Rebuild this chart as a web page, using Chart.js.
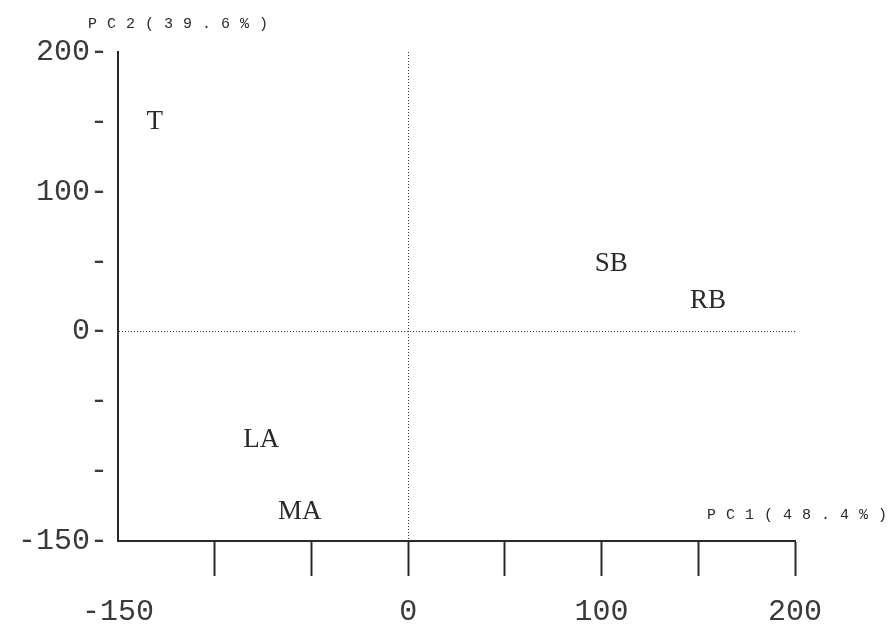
<!DOCTYPE html>
<html>
<head>
<meta charset="utf-8">
<script src="https://cdn.jsdelivr.net/npm/chart.js@4"></script>
<style>
  body { margin: 0; background: #fff; }
  canvas { display: block; }
</style>
</head>
<body>
<canvas id="myChart" width="893" height="632"></canvas>
<script>
const groups = ["T", "SB", "RB", "LA", "MA"];
const pc1 = [-131, 105, 155, -76, -56];
const pc2 = [150, 48, 22, -78, -129];

const xLabeled = [-150, 0, 100, 200];
const yLabeled = [200, 100, 0, -150];
const xTitle = "PC1(48.4%)";
const yTitle = "PC2(39.6%)";

const ink = "#2a2a2a";
const tickInk = "#3a3a3a";
const tickFont = { family: "Liberation Mono", size: 30 };

const points = pc1.map((x, i) => ({ x: x, y: pc2[i] }));

// write the group names at their points, and the two axis titles
const labelPlugin = {
  id: "labels",
  afterDatasetsDraw(chart) {
    const ctx = chart.ctx;
    const meta = chart.getDatasetMeta(0);
    ctx.save();
    ctx.fillStyle = ink;
    ctx.font = "27px 'Liberation Serif'";
    ctx.textAlign = "center";
    ctx.textBaseline = "middle";
    meta.data.forEach((el, i) => {
      ctx.fillText(groups[i], el.x, el.y);
    });

    ctx.font = "15px 'Liberation Mono'";
    ctx.letterSpacing = "10px";
    ctx.textAlign = "left";
    ctx.textBaseline = "alphabetic";
    ctx.fillText(yTitle, 88, 28);
    ctx.fillText(xTitle, 707, 519);
    ctx.restore();
  },
};

const ctx = document.getElementById("myChart").getContext("2d");

const config = {
  type: "scatter",
  data: {
    datasets: [
      {
        data: points,
        pointRadius: 0,
        pointHoverRadius: 0,
      },
    ],
  },
  options: {
    responsive: false,
    animation: false,
    layout: { padding: { top: 52, right: 98, left: 0, bottom: 0 } },
    plugins: { legend: { display: false }, tooltip: { enabled: false } },
    scales: {
      x: {
        type: "linear",
        min: -150,
        max: 200,
        afterFit: (s) => { s.height = 91; },
        ticks: {
          stepSize: 50,
          autoSkip: false,
          maxRotation: 0,
          padding: 18,
          color: tickInk,
          font: tickFont,
          callback: (v) => (xLabeled.includes(v) ? String(v) : ""),
        },
        grid: {
          color: (c) => (c.tick && c.tick.value === 0 ? "#333" : "rgba(0,0,0,0)"),
          lineWidth: 1,
          tickLength: 35,
          tickWidth: 2,
          tickColor: (c) => (c.tick && c.tick.value === -150 ? "rgba(0,0,0,0)" : ink),
        },
        border: { color: ink, width: 2, dash: [1, 2] },
      },
      y: {
        type: "linear",
        min: -150,
        max: 200,
        afterFit: (s) => { s.width = 118; },
        ticks: {
          stepSize: 50,
          autoSkip: false,
          padding: 10,
          color: tickInk,
          font: tickFont,
          callback: (v) => (yLabeled.includes(v) ? v + "-" : "-"),
        },
        grid: {
          color: (c) => (c.tick && c.tick.value === 0 ? "#333" : "rgba(0,0,0,0)"),
          lineWidth: 1,
          drawTicks: false,
        },
        border: { color: ink, width: 2, dash: [1, 2] },
      },
    },
  },
  plugins: [labelPlugin],
};

const myChart = new Chart(ctx, config);
</script>
</body>
</html>
